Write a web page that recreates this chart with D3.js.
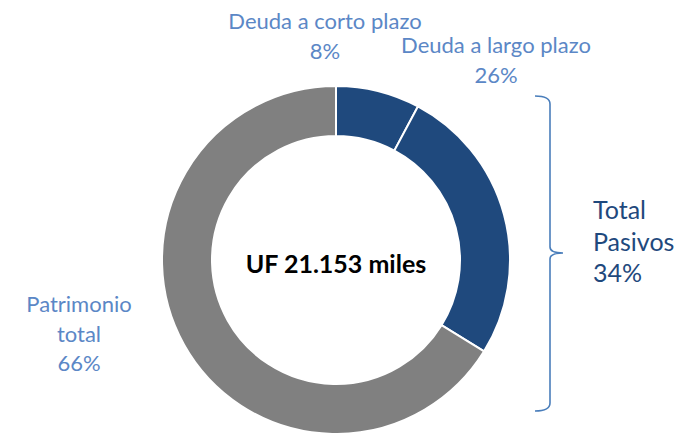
<!DOCTYPE html>
<html>
<head>
<meta charset="utf-8">
<script src="https://cdn.jsdelivr.net/npm/d3@7"></script>
<style>
  body { margin: 0; background: #fff; }
  svg { display: block; }
</style>
</head>
<body>
<svg id="chart"></svg>
<script>
// Data
const categories = ["Deuda a corto plazo", "Deuda a largo plazo", "Patrimonio total"];
const shares = [7.8, 26.0, 66.2];
const sliceColors = ["#1f497d", "#1f497d", "#808080"];
const totalLabel = "UF 21.153 miles";
const groupLabel = ["Total", "Pasivos"];

// Constants
const width = 680;
const height = 433;
const cx = 336;
const cy = 260;
const outerR = 174;
const innerR = 124;
const font = "'Source Sans Pro', Lato, 'Noto Sans', sans-serif";
const labelColor = "#5b87c6";

const svg = d3.select('#chart')
  .attr('width', width)
  .attr('height', height);

const chart = svg.append('g')
  .attr('transform', `translate(${cx},${cy})`);

const pie = d3.pie().sort(null).value(d => d);
const arcs = pie(shares);
const arc = d3.arc().innerRadius(innerR).outerRadius(outerR);

chart.selectAll('path.slice')
  .data(arcs)
  .enter()
  .append('path')
  .attr('class', 'slice')
  .attr('d', arc)
  .attr('fill', (d, i) => sliceColors[i])
  .attr('stroke', '#fff')
  .attr('stroke-width', 2);

// centre text
chart.append('text')
  .attr('x', 0)
  .attr('y', 13)
  .attr('text-anchor', 'middle')
  .attr('font-family', font)
  .attr('font-weight', 'bold')
  .attr('font-size', 25)
  .attr('fill', '#000')
  .text(totalLabel);

// slice labels (name + rounded percent)
const pct = d => Math.round(d) + '%';
const labelPos = [
  { x: -11, y: -231, lines: ["Deuda a corto plazo"] },
  { x: 160, y: -207, lines: ["Deuda a largo plazo"] },
  { x: -257, y: 52, lines: ["Patrimonio", "total"] },
];

labelPos.forEach((p, i) => {
  const t = chart.append('text')
    .attr('text-anchor', 'middle')
    .attr('font-family', font)
    .attr('font-size', 22)
    .attr('fill', labelColor);
  const lines = p.lines.concat([pct(shares[i])]);
  lines.forEach((l, j) => {
    t.append('tspan')
      .attr('x', p.x)
      .attr('y', p.y + j * 29.5)
      .text(l);
  });
});

// bracket for Total Pasivos
const bx = 550, bTop = 96, bBottom = 411, bMid = 253;
svg.append('path')
  .attr('d', `M${bx - 15},${bTop} Q${bx},${bTop} ${bx},${bTop + 8}
    L${bx},${bMid - 6} Q${bx},${bMid} ${bx + 13},${bMid}
    Q${bx},${bMid} ${bx},${bMid + 6}
    L${bx},${bBottom - 8} Q${bx},${bBottom} ${bx - 15},${bBottom}`)
  .attr('fill', 'none')
  .attr('stroke', '#4a7ebb')
  .attr('stroke-width', 1.6);

const tp = svg.append('text')
  .attr('font-family', font)
  .attr('font-size', 25)
  .attr('fill', '#1f497d');
const sumPasivos = shares[0] + shares[1];
groupLabel.concat([pct(sumPasivos)]).forEach((l, j) => {
  tp.append('tspan')
    .attr('x', 593)
    .attr('y', 219 + j * 31.5)
    .text(l);
});
</script>
</body>
</html>
